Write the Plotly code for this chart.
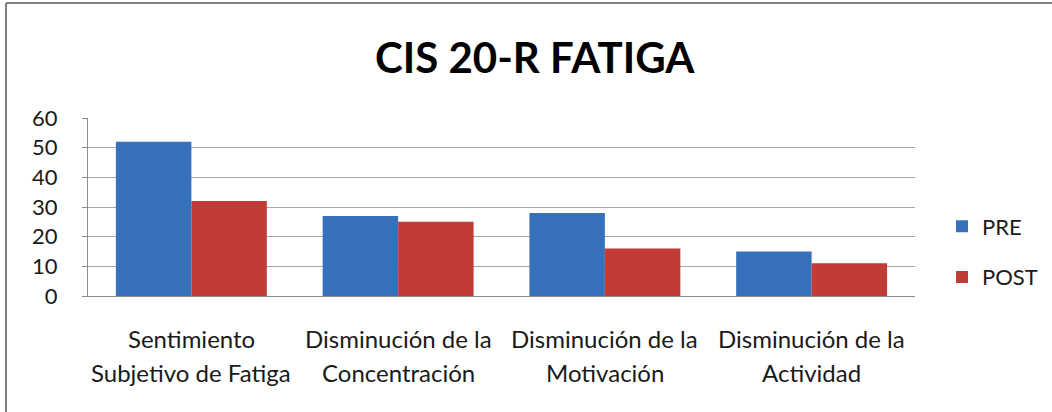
import plotly.graph_objects as go

categories_line1 = ["Sentimiento", "Disminución de la", "Disminución de la", "Disminución de la"]
categories_line2 = ["Subjetivo de Fatiga", "Concentración", "Motivación", "Actividad"]
categories = [a + " " + b for a, b in zip(categories_line1, categories_line2)]
pre_values = [52, 27, 28, 15]
post_values = [32, 25, 16, 11]
y_ticks = [0, 10, 20, 30, 40, 50, 60]
title_text = "CIS 20-R FATIGA"

W, H = 1052, 412
L, R, T, B = 88, 137, 118, 116
pw, ph = W - L - R, H - T - B
FONT = "Lato, Open Sans, sans-serif"
GRAY = "#8c8c8c"

fig = go.Figure()
fig.add_trace(go.Bar(x=categories, y=pre_values, name="PRE", legendgroup="a",
                     marker=dict(color="#3771BC", line=dict(width=0))))
fig.add_trace(go.Bar(x=categories, y=post_values, name="POST", legendgroup="b",
                     marker=dict(color="#C13B37", line=dict(width=0))))

annotations = []
for c, l1, l2 in zip(categories, categories_line1, categories_line2):
    for txt, shift in ((l1, -42), (l2, -76)):
        annotations.append(dict(x=c, y=0, xref="x", yref="y", text=txt, showarrow=False,
                                yshift=shift, yanchor="middle", xanchor="center",
                                font=dict(family=FONT, size=24, color="#1a1a1a")))
annotations.append(dict(x=(535 - L) / pw, y=(H - B - 57) / ph, xref="paper", yref="paper",
                        text=f"<b>{title_text}</b>", showarrow=False,
                        xanchor="center", yanchor="middle",
                        font=dict(family=FONT, size=42, color="#000000")))

shapes = [
    dict(type="line", xref="paper", yref="paper", x0=(6 - L) / pw, x1=(6 - L) / pw,
         y0=(H - B - 3) / ph, y1=(H - B - H - 5) / ph, line=dict(color="#808080", width=2)),
    dict(type="line", xref="paper", yref="paper", x0=(6 - L) / pw, x1=(W + 5 - L) / pw,
         y0=(H - B - 3) / ph, y1=(H - B - 3) / ph, line=dict(color="#808080", width=2)),
]

fig.update_layout(
    width=W, height=H,
    margin=dict(l=L, r=R, t=T, b=B, autoexpand=False),
    paper_bgcolor="white", plot_bgcolor="white",
    barmode="group", bargap=0.27, bargroupgap=0,
    showlegend=True,
    legend=dict(x=(942 - L) / pw, y=(H - B - 252) / ph, xanchor="left", yanchor="middle",
                font=dict(family=FONT, size=22, color="#1a1a1a"),
                traceorder="grouped", tracegroupgap=19, itemwidth=30, bgcolor="rgba(0,0,0,0)"),
    annotations=annotations,
    shapes=shapes,
    xaxis=dict(showticklabels=False, showline=True, linecolor=GRAY, linewidth=1,
               ticks="", showgrid=False, fixedrange=True),
    yaxis=dict(range=[0, 60], tickvals=y_ticks, showgrid=True, gridcolor="#a6a6a6", gridwidth=1,
               showline=True, linecolor=GRAY, linewidth=1, ticks="outside", ticklen=5,
               tickcolor=GRAY, ticklabelstandoff=20, zeroline=False,
               tickfont=dict(family=FONT, size=22, color="#1a1a1a")),
)

fig.write_html("out.html", config={"displayModeBar": False},
               post_script="document.body.style.margin='0';document.body.style.overflow='hidden';")
